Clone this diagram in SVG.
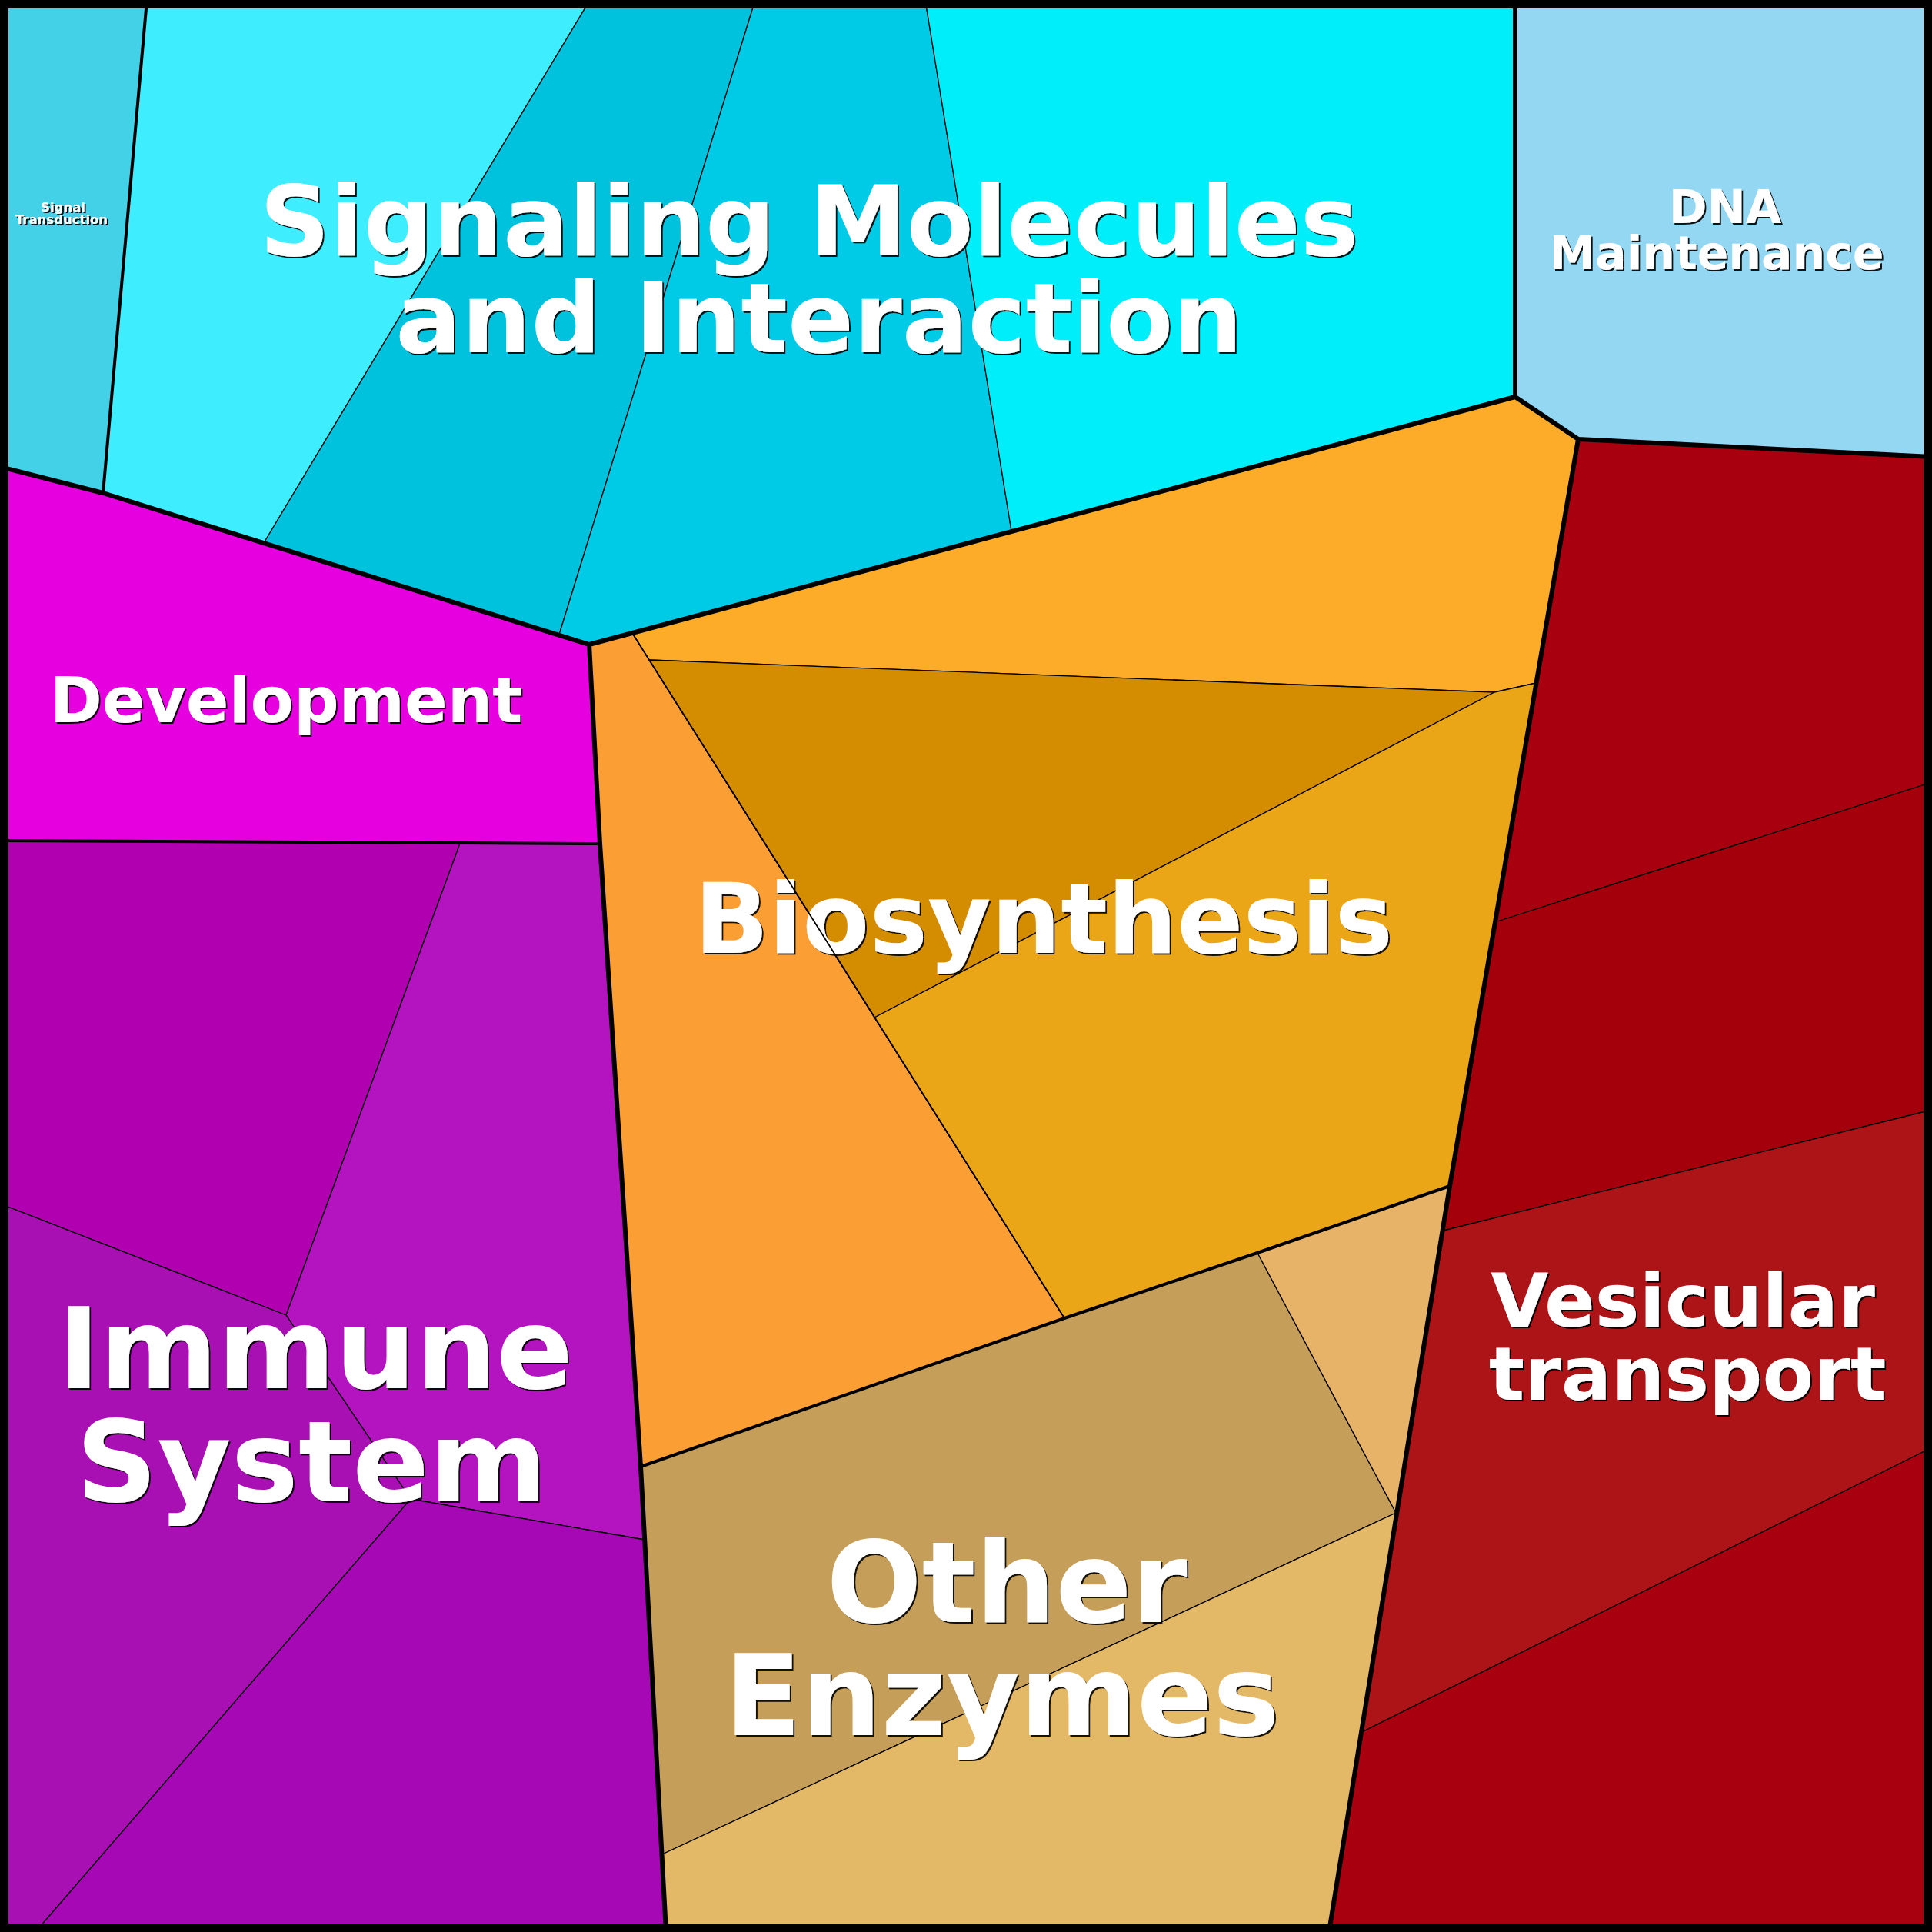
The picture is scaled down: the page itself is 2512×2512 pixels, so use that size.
<svg xmlns="http://www.w3.org/2000/svg" width="2512" height="2512" viewBox="0 0 2512 2512">
<defs>
<style>
.c{stroke:#000;stroke-width:1.3;stroke-linejoin:round}
.b1{fill:none;stroke:#000;stroke-width:6;stroke-linejoin:round;stroke-linecap:round}
.b2{fill:none;stroke:#000;stroke-width:4;stroke-linejoin:round;stroke-linecap:round}
.b3{fill:none;stroke:#000;stroke-width:1.8;stroke-linecap:round}
.t{font-family:"DejaVu Sans","Liberation Sans",sans-serif;font-weight:bold;fill:#fff;text-anchor:middle;filter:url(#sh)}
</style>
<filter id="sh" x="-5%" y="-5%" width="110%" height="120%">
<feDropShadow dx="2" dy="2" stdDeviation="0.3" flood-color="#000" flood-opacity="0.9"/>
</filter>
</defs>
<rect x="0" y="0" width="2512" height="2512" fill="#fff"/>

<g id="signal-transduction">
<polygon class="c" fill="#43d1e8" points="0,0 191,0 134,641 0,607"/>
<text class="t" font-size="16.5"><tspan x="82" y="274.5">Signal</tspan><tspan x="80" y="291">Transduction</tspan></text>
</g>

<g id="signaling-molecules">
<polygon class="c" fill="#3eeeff" points="191,0 767,0 343,706 134,641"/>
<polygon class="c" fill="#00c2dd" points="767,0 982,0 727,825 343,706"/>
<polygon class="c" fill="#00cbe6" points="982,0 1203,0 1315,690 766,838 727,825"/>
<polygon class="c" fill="#00eefa" points="1203,0 1970,0 1970,516 1315,690"/>
<text class="t" font-size="127"><tspan x="1052" y="332">Signaling Molecules</tspan><tspan x="1065" y="458">and Interaction</tspan></text>
</g>

<g id="dna-maintenance">
<polygon class="c" fill="#93d7f3" points="1970,0 2512,0 2512,594 2052,571 1970,516"/>
<text class="t" font-size="60"><tspan x="2243" y="290">DNA</tspan><tspan x="2232" y="349.5">Maintenance</tspan></text>
</g>

<g id="development">
<polygon class="c" fill="#e600e0" points="0,607 134,641 343,706 727,825 766,838 780,1097 0,1093"/>
<text class="t" font-size="82" x="372" y="939">Development</text>
</g>

<g id="immune-system">
<polygon class="c" fill="#b000b0" points="0,1093 598,1097 372,1710 0,1565"/>
<polygon class="c" fill="#b414c0" points="598,1097 780,1097 833,1907 838,2002 534,1949 372,1710"/>
<polygon class="c" fill="#a810b4" points="0,1565 372,1710 534,1949 46,2512 0,2512"/>
<polygon class="c" fill="#a508b4" points="534,1949 838,2002 866,2512 46,2512"/>
<text class="t" font-size="147"><tspan x="410" y="1805">Immune</tspan><tspan x="405" y="1952">System</tspan></text>
</g>

<g id="biosynthesis">
<polygon class="c" fill="#fcac28" points="766,838 1970,516 2052,571 1997,888 1943,900 844,858 822,823"/>
<polygon class="c" fill="#fb9f35" points="766,838 822,823 844,858 1137,1323 1384,1714 833,1907 780,1097"/>
<polygon class="c" fill="#d48c00" points="844,858 1943,900 1137,1323"/>
<polygon class="c" fill="#eaa616" points="1943,900 1997,888 1885,1542 1384,1714 1137,1323"/>
<text class="t" font-size="127" x="1357" y="1239">Biosynthesis</text>
</g>

<g id="other-enzymes">
<polygon class="c" fill="#c59f5a" points="833,1907 1384,1714 1635,1629 1815,1967 861,2411"/>
<polygon class="c" fill="#e6b368" points="1635,1629 1885,1542 1815,1967"/>
<polygon class="c" fill="#e3b866" points="861,2411 1815,1967 1728,2512 866,2512"/>
<text class="t" font-size="146"><tspan x="1309" y="2109">Other</tspan><tspan x="1303" y="2256">Enzymes</tspan></text>
</g>

<g id="vesicular-transport">
<polygon class="c" fill="#a8000f" points="2052,571 2512,594 2512,1017 1944,1199"/>
<polygon class="c" fill="#a3000c" points="1944,1199 2512,1017 2512,1443 1877,1600"/>
<polygon class="c" fill="#ad1417" points="1877,1600 2512,1443 2512,1882 1771,2252"/>
<polygon class="c" fill="#a8000f" points="1771,2252 2512,1882 2512,2512 1728,2512"/>
<text class="t" font-size="97"><tspan x="2188" y="1725">Vesicular</tspan><tspan x="2194" y="1820">transport</tspan></text>
</g>

<g id="connectors">
<polyline class="b3" points="822,823 1384,1714"/>
<polyline class="b2" points="191,0 134,641"/>
<polyline class="b2" points="0,1093 780,1097"/>
<polyline class="b2" points="833,1907 1384,1714 1635,1629 1885,1542"/>
<polyline class="b1" points="0,607 134,641 766,838 1970,516 2052,571 2512,594"/>
<polyline class="b1" points="1970,0 1970,516"/>
<polyline class="b1" points="2052,571 1885,1542 1728,2512"/>
<polyline class="b1" points="766,838 780,1097 833,1907 866,2512"/>
<rect x="0" y="0" width="2512" height="2512" fill="none" stroke="#000" stroke-width="22"/>
</g>
</svg>
